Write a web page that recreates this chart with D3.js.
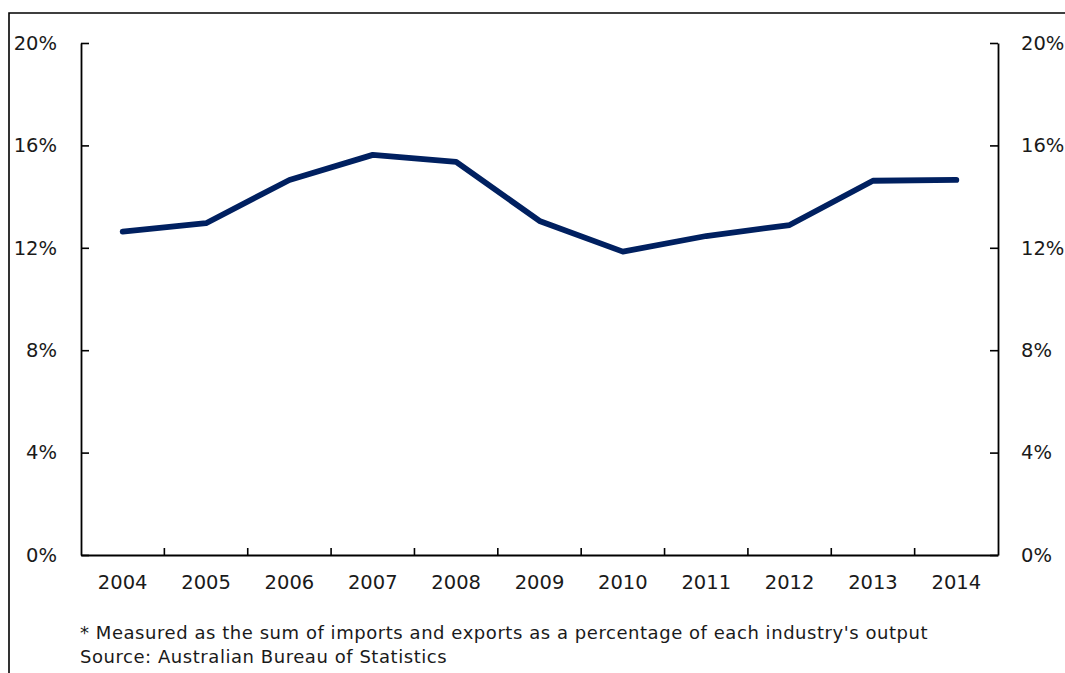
<!DOCTYPE html>
<html>
<head>
<meta charset="utf-8">
<script src="https://cdn.jsdelivr.net/npm/d3@7"></script>
<style>
  html, body { margin: 0; padding: 0; background: #fff; }
  svg { display: block; }
  text { font-family: "DejaVu Sans", sans-serif; fill: #1a1a1a; }
</style>
</head>
<body>
<svg id="chart" width="1065" height="673"></svg>
<script>
// Trade intensity by year (per cent of industry output)
const years = ["2004","2005","2006","2007","2008","2009","2010","2011","2012","2013","2014"];
const tradeShare = [12.63, 12.96, 14.65, 15.63, 15.36, 13.05, 11.85, 12.46, 12.89, 14.62, 14.65];
const yTicks = [0, 4, 8, 12, 16, 20];
const notes = [
  "* Measured as the sum of imports and exports as a percentage of each industry's output",
  "Source: Australian Bureau of Statistics"
];

const svg = d3.select("#chart");
const W = 1065, H = 673;
const plot = { left: 81, right: 998, top: 43, bottom: 555 };

// frame around the panel (top and left edges)
svg.append("path")
  .attr("d", `M9,${H} V13 H${W}`)
  .attr("fill", "none").attr("stroke", "#000").attr("stroke-width", 1.6);

const x = d3.scaleBand().domain(years).range([plot.left, plot.right]);
const y = d3.scaleLinear().domain([0, 20]).range([plot.bottom, plot.top]);

const fmt = d => d + "%";

// left axis, ticks pointing into the plot
const gL = svg.append("g").attr("transform", `translate(${plot.left},0)`)
  .call(d3.axisLeft(y).tickValues(yTicks).tickSize(-8).tickSizeOuter(0).tickFormat(fmt));
gL.selectAll("text").attr("x", -24).attr("font-size", 19.5);

// right axis
const gR = svg.append("g").attr("transform", `translate(${plot.right},0)`)
  .call(d3.axisRight(y).tickValues(yTicks).tickSize(-8).tickSizeOuter(0).tickFormat(fmt));
gR.selectAll("text").attr("x", 23).attr("font-size", 19.5);

// bottom axis: ticks between categories
const gB = svg.append("g").attr("transform", `translate(0,${plot.bottom})`)
  .call(d3.axisBottom(x).tickSize(0).tickSizeOuter(0));
gB.selectAll("text").attr("y", 20).attr("font-size", 19.5);
gB.selectAll(".sep").data(years.slice(1)).enter().append("line")
  .attr("class", "sep")
  .attr("x1", d => x(d)).attr("x2", d => x(d))
  .attr("y1", 0).attr("y2", -7)
  .attr("stroke", "#000").attr("stroke-width", 1.6);

[gL, gR, gB].forEach(g => {
  g.select(".domain").attr("stroke", "#000").attr("stroke-width", 1.8);
  g.selectAll(".tick line").attr("stroke", "#000").attr("stroke-width", 1.6);
  g.selectAll("text").attr("font-family", "DejaVu Sans, sans-serif").attr("fill", "#1a1a1a");
});

// series line
const line = d3.line()
  .x((d, i) => x(years[i]) + x.bandwidth() / 2)
  .y(d => y(d));
svg.append("path")
  .datum(tradeShare)
  .attr("d", line)
  .attr("fill", "none")
  .attr("stroke", "#002060")
  .attr("stroke-width", 5.8)
  .attr("stroke-linejoin", "round")
  .attr("stroke-linecap", "round");

// notes
svg.selectAll(".note").data(notes).enter().append("text")
  .attr("class", "note")
  .attr("x", 80)
  .attr("y", (d, i) => 639 + i * 24)
  .attr("font-size", 18)
  .attr("letter-spacing", 0.55)
  .text(d => d);
</script>
</body>
</html>
